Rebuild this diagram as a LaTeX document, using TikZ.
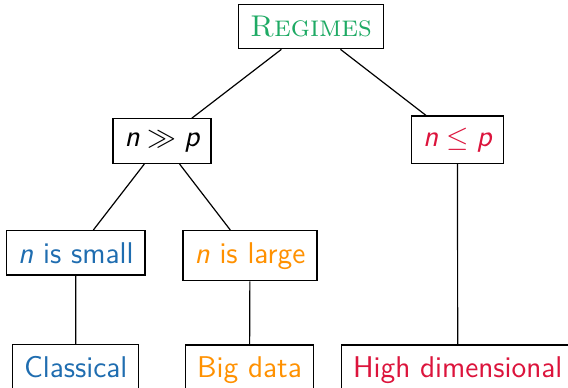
\documentclass[tikz,border=0pt]{standalone}
\usepackage{amsmath,amssymb}
\usepackage{color}
\usepackage{tikz}
\usetikzlibrary{arrows,positioning}

\definecolor{regimegreen}{RGB}{30,170,100}
\definecolor{smallblue}{RGB}{31,109,176}
\definecolor{largeorange}{RGB}{255,145,0}
\definecolor{highred}{RGB}{220,20,60}

% sans italic letters, as in beamer math
\newcommand{\sv}[1]{\textsf{\itshape #1}}

\tikzset{
  regime/.style={draw, line width=0.6pt, anchor=base, fill=white, inner sep=5.8pt,
    font=\fontsize{15}{18}\selectfont\sffamily},
  branch/.style={line width=0.6pt}
}

\begin{document}
\begin{tikzpicture}[x=5pt,y=5pt]
\useasboundingbox (0,0) rectangle (56.8,38.7);
\clip (0,0) rectangle (56.8,38.7);
\fill[white] (0,0) rectangle (56.8,38.7);

% root
\node[regime, text=regimegreen, font=\fontsize{15}{18}\selectfont\rmfamily] (regimes) at (31.1,35.05) {\textsc{Regimes}};

% n against p
\node[regime] (ngg) at (16.2,24.1) {$\sv{n} \gg \sv{p}$};
\node[regime, text=highred] (nle) at (45.75,24.1) {$\sv{n} \leq \sv{p}$};

% size of n
\node[regime, text=smallblue] (small) at (7.58,12.4) {\sv{n} is small};
\node[regime, text=largeorange] (large) at (25.0,12.4) {\sv{n} is large};

% leaves
\node[regime, text=smallblue] (classical) at (7.57,0.95) {Classical};
\node[regime, text=largeorange] (bigdata) at (24.95,0.95) {Big data};
\node[regime, text=highred] (highdim) at (45.77,0.95) {High dimensional};

\draw[branch] (regimes) -- (ngg);
\draw[branch] (regimes) -- (nle);
\draw[branch] (ngg) -- (small);
\draw[branch] (ngg) -- (large);
\draw[branch] (small) -- (classical);
\draw[branch] (large) -- (bigdata);
\draw[branch] (nle) -- (highdim);
\end{tikzpicture}
\end{document}
